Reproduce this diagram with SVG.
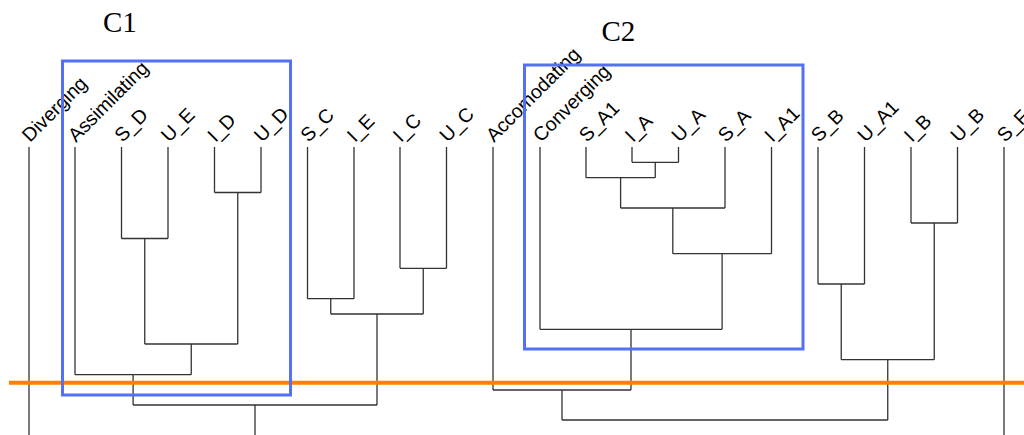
<svg xmlns="http://www.w3.org/2000/svg" width="1024" height="435" viewBox="0 0 1024 435">
<style>
.lbl{font-family:"Liberation Sans",Arial,sans-serif;font-size:19.5px;fill:#000}
.leaf{stroke:#333;stroke-width:1.3;fill:none}
.link{stroke:#333;stroke-width:1.3;fill:none}
.box{stroke:#5470f5;stroke-width:3;fill:none}
.title{font-family:"Liberation Serif","Times New Roman",serif;font-size:29px;fill:#000}
</style>
<rect width="1024" height="435" fill="#fff"/>
<g id="leaves">
<g id="n-diverging"><line class="leaf" x1="29" y1="147" x2="29" y2="435"/><text class="lbl" transform="translate(30,143) rotate(-45)">Diverging</text></g>
<g id="n-assimilating"><line class="leaf" x1="75" y1="147" x2="75" y2="374.7"/><text class="lbl" transform="translate(76,143) rotate(-45)">Assimilating</text></g>
<g id="n-S_D"><line class="leaf" x1="121.5" y1="147" x2="121.5" y2="238.5"/><text class="lbl" transform="translate(122.5,143) rotate(-45)">S_D</text></g>
<g id="n-U_E"><line class="leaf" x1="168" y1="147" x2="168" y2="238.5"/><text class="lbl" transform="translate(169,143) rotate(-45)">U_E</text></g>
<g id="n-I_D"><line class="leaf" x1="214.5" y1="147" x2="214.5" y2="192.5"/><text class="lbl" transform="translate(215.5,143) rotate(-45)">I_D</text></g>
<g id="n-U_D"><line class="leaf" x1="261" y1="147" x2="261" y2="192.5"/><text class="lbl" transform="translate(262,143) rotate(-45)">U_D</text></g>
<g id="n-S_C"><line class="leaf" x1="307.5" y1="147" x2="307.5" y2="298.7"/><text class="lbl" transform="translate(308.5,143) rotate(-45)">S_C</text></g>
<g id="n-I_E"><line class="leaf" x1="354" y1="147" x2="354" y2="298.7"/><text class="lbl" transform="translate(355,143) rotate(-45)">I_E</text></g>
<g id="n-I_C"><line class="leaf" x1="400" y1="147" x2="400" y2="268.3"/><text class="lbl" transform="translate(401,143) rotate(-45)">I_C</text></g>
<g id="n-U_C"><line class="leaf" x1="446.5" y1="147" x2="446.5" y2="268.3"/><text class="lbl" transform="translate(447.5,143) rotate(-45)">U_C</text></g>
<g id="n-accomodating"><line class="leaf" x1="493" y1="147" x2="493" y2="390"/><text class="lbl" transform="translate(494,143) rotate(-45)">Accomodating</text></g>
<g id="n-converging"><line class="leaf" x1="540" y1="147" x2="540" y2="329.3"/><text class="lbl" transform="translate(541,143) rotate(-45)">Converging</text></g>
<g id="n-S_A1"><line class="leaf" x1="586" y1="147" x2="586" y2="177.7"/><text class="lbl" transform="translate(587,143) rotate(-45)">S_A1</text></g>
<g id="n-I_A"><line class="leaf" x1="632" y1="147" x2="632" y2="162.3"/><text class="lbl" transform="translate(633,143) rotate(-45)">I_A</text></g>
<g id="n-U_A"><line class="leaf" x1="678.5" y1="147" x2="678.5" y2="162.3"/><text class="lbl" transform="translate(679.5,143) rotate(-45)">U_A</text></g>
<g id="n-S_A"><line class="leaf" x1="725" y1="147" x2="725" y2="208"/><text class="lbl" transform="translate(726,143) rotate(-45)">S_A</text></g>
<g id="n-I_A1"><line class="leaf" x1="771.5" y1="147" x2="771.5" y2="253.7"/><text class="lbl" transform="translate(772.5,143) rotate(-45)">I_A1</text></g>
<g id="n-S_B"><line class="leaf" x1="818" y1="147" x2="818" y2="284"/><text class="lbl" transform="translate(819,143) rotate(-45)">S_B</text></g>
<g id="n-U_A1"><line class="leaf" x1="864.5" y1="147" x2="864.5" y2="284"/><text class="lbl" transform="translate(865.5,143) rotate(-45)">U_A1</text></g>
<g id="n-I_B"><line class="leaf" x1="911" y1="147" x2="911" y2="223"/><text class="lbl" transform="translate(912,143) rotate(-45)">I_B</text></g>
<g id="n-U_B"><line class="leaf" x1="957.5" y1="147" x2="957.5" y2="223"/><text class="lbl" transform="translate(958.5,143) rotate(-45)">U_B</text></g>
<g id="n-S_F"><line class="leaf" x1="1004" y1="147" x2="1004" y2="435"/><text class="lbl" transform="translate(1005,143) rotate(-45)">S_F</text></g>
</g>
<g id="connectors">
<path class="link" d="M121.5 238.5 H168"/>
<path class="link" d="M214.5 192.5 H261"/>
<path class="link" d="M144.75 238.5 V344 M237.75 192.5 V344 M144.75 344 H237.75"/>
<path class="link" d="M191.25 344 V374.7 M75 374.7 H191.25"/>
<path class="link" d="M307.5 298.7 H354"/>
<path class="link" d="M400 268.3 H446.5"/>
<path class="link" d="M330.75 298.7 V314 M423.25 268.3 V314 M330.75 314 H423.25"/>
<path class="link" d="M133.1 374.7 V405 M377 314 V405 M133.1 405 H377 M255 405 V435"/>
<path class="link" d="M632 162.3 H678.5"/>
<path class="link" d="M655.25 162.3 V177.7 M586 177.7 H655.25"/>
<path class="link" d="M620.6 177.7 V208 M620.6 208 H725"/>
<path class="link" d="M672.8 208 V253.7 M672.8 253.7 H771.5"/>
<path class="link" d="M722.1 253.7 V329.3 M540 329.3 H722.1"/>
<path class="link" d="M631 329.3 V390 M493 390 H631"/>
<path class="link" d="M818 284 H864.5"/>
<path class="link" d="M911 223 H957.5"/>
<path class="link" d="M841.25 284 V359.7 M934.25 223 V359.7 M841.25 359.7 H934.25"/>
<path class="link" d="M562 390 V420 M887.75 359.7 V420 M562 420 H887.75"/>
</g>
<line id="cut" x1="9" y1="382.7" x2="1024" y2="382.7" stroke="#ff7f00" stroke-width="4"/>
<g id="C1"><rect class="box" x="62.5" y="61" width="228" height="334"/><text class="title" x="103" y="31.5">C1</text></g>
<g id="C2"><rect class="box" x="524.5" y="65" width="278.5" height="284"/><text class="title" x="601.5" y="40.5">C2</text></g>
</svg>
